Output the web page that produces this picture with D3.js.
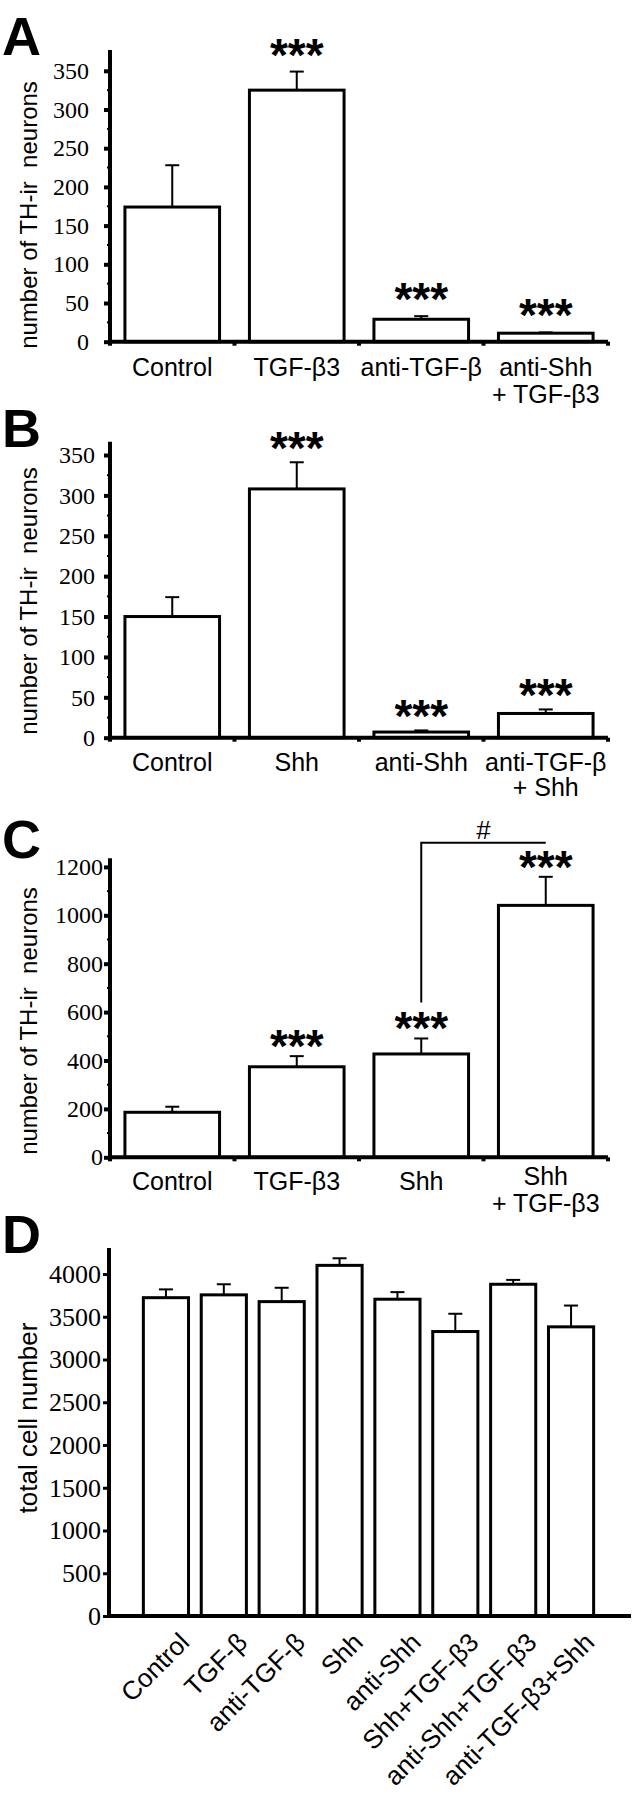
<!DOCTYPE html>
<html>
<head>
<meta charset="utf-8">
<script src="https://cdn.jsdelivr.net/npm/d3@7"></script>
<style>
  body { margin: 0; background: #fff; }
  svg { display: block; }
</style>
</head>
<body>
<svg id="fig" width="632" height="1800"></svg>
<script>
// ---- data ----
// Panel A: TH-ir neurons, TGF-beta3 / antibody treatments
const catsA = [["Control"], ["TGF-β3"], ["anti-TGF-β"], ["anti-Shh", "+ TGF-β3"]];
const meanA = [174, 325, 29, 11];
const semA = [54, 24, 4, 1];
const sigA = ["", "***", "***", "***"];
const ticksA = [0, 50, 100, 150, 200, 250, 300, 350];

// Panel B: TH-ir neurons, Shh / antibody treatments
const catsB = [["Control"], ["Shh"], ["anti-Shh"], ["anti-TGF-β", "+ Shh"]];
const meanB = [150, 308, 7, 30];
const semB = [24, 33, 2, 5];
const sigB = ["", "***", "***", "***"];
const ticksB = [0, 50, 100, 150, 200, 250, 300, 350];

// Panel C: TH-ir neurons, combined treatment
const catsC = [["Control"], ["TGF-β3"], ["Shh"], ["Shh", "+ TGF-β3"]];
const meanC = [186, 374, 427, 1041];
const semC = [23, 44, 64, 118];
const sigC = ["", "***", "***", "***"];
const ticksC = [0, 200, 400, 600, 800, 1000, 1200];
const bracketC = { from: 2, to: 3, top: 1300, bottom: 640, label: "#" };

// Panel D: total cell number
const catsD = ["Control", "TGF-β", "anti-TGF-β", "Shh", "anti-Shh", "Shh+TGF-β3", "anti-Shh+TGF-β3", "anti-TGF-β3+Shh"];
const meanD = [3723, 3756, 3677, 4101, 3705, 3327, 3880, 3382];
const semD = [97, 124, 162, 83, 83, 208, 51, 249];
const ticksD = [0, 500, 1000, 1500, 2000, 2500, 3000, 3500, 4000];

const svg = d3.select("#fig");
const SANS = "'Liberation Sans', Arial, sans-serif";
const SERIF = "'Liberation Serif', 'Times New Roman', serif";

// panel layout
const panels = [
  { letter: "A", cats: catsA, mean: meanA, sem: semA, sig: sigA, ticks: ticksA, minor: 25,
    ylabel: "number of TH-ir  neurons", x0: 110, x1: 608, y0: 341.7, yTop: 70.8, axisTop: 50,
    letterY: 55, tickPad: 15, labelMid: 215, starGap: 27, catY: [34, 61] },
  { letter: "B", cats: catsB, mean: meanB, sem: semB, sig: sigB, ticks: ticksB, minor: 25,
    ylabel: "number of TH-ir  neurons", x0: 110, x1: 608, y0: 737.7, yTop: 455, axisTop: 441.7,
    letterY: 447, tickPad: 9, labelMid: 601, starGap: 24, catY: [33, 58] },
  { letter: "C", cats: catsC, mean: meanC, sem: semC, sig: sigC, ticks: ticksC, minor: 100,
    ylabel: "number of TH-ir  neurons", x0: 110, x1: 608, y0: 1157.3, yTop: 866.9, axisTop: 858.3,
    letterY: 858, tickPad: 1, labelMid: 1021, starGap: 20, catY: [33, 60], bracket: bracketC }
];

function drawPanel(p) {
  const g = svg.append("g");
  const n = p.mean.length;
  const x = d3.scaleBand().domain(d3.range(n)).range([p.x0, p.x1])
    .paddingInner(0.24).paddingOuter(0.12);
  const y = d3.scaleLinear().domain([0, p.ticks[p.ticks.length - 1]]).range([p.y0, p.yTop]);

  // bars
  g.selectAll("rect.bar").data(p.mean).join("rect")
    .attr("class", "bar")
    .attr("x", (d, i) => x(i))
    .attr("y", d => y(d))
    .attr("width", x.bandwidth())
    .attr("height", d => y(0) - y(d))
    .attr("fill", "#fff").attr("stroke", "#000").attr("stroke-width", 3);

  // error bars (upper only)
  const eb = g.selectAll("g.err").data(p.mean).join("g").attr("class", "err");
  eb.append("line")
    .attr("x1", (d, i) => x(i) + x.bandwidth() / 2).attr("x2", (d, i) => x(i) + x.bandwidth() / 2)
    .attr("y1", d => y(d)).attr("y2", (d, i) => y(d + p.sem[i]))
    .attr("stroke", "#000").attr("stroke-width", 2);
  eb.append("line")
    .attr("x1", (d, i) => x(i) + x.bandwidth() / 2 - 7).attr("x2", (d, i) => x(i) + x.bandwidth() / 2 + 7)
    .attr("y1", (d, i) => y(d + p.sem[i])).attr("y2", (d, i) => y(d + p.sem[i]))
    .attr("stroke", "#000").attr("stroke-width", 2);

  // significance stars
  g.selectAll("text.sig").data(p.sig).join("text")
    .attr("class", "sig")
    .attr("x", (d, i) => x(i) + x.bandwidth() / 2)
    .attr("y", (d, i) => y(p.mean[i] + p.sem[i]) - p.starGap + 26)
    .attr("text-anchor", "middle")
    .attr("font-family", SANS).attr("font-weight", "bold").attr("font-size", 46)
    .text(d => d);

  // y axis
  const ax = g.append("g").attr("transform", `translate(${p.x0},0)`)
    .call(d3.axisLeft(y).tickValues(p.ticks).tickSize(6).tickPadding(p.tickPad).tickFormat(d3.format("d")));
  ax.select(".domain").remove();
  ax.selectAll(".tick line").attr("stroke", "#000").attr("stroke-width", 4);
  ax.selectAll(".tick text").attr("font-family", SERIF).attr("font-size", 24).attr("fill", "#000");
  const minorVals = d3.range(p.minor, p.ticks[p.ticks.length - 1], p.minor).filter(v => !p.ticks.includes(v));
  g.selectAll("line.minor").data(minorVals).join("line")
    .attr("class", "minor")
    .attr("x1", p.x0 - 3).attr("x2", p.x0)
    .attr("y1", d => y(d)).attr("y2", d => y(d))
    .attr("stroke", "#000").attr("stroke-width", 2);
  g.append("line").attr("x1", p.x0).attr("x2", p.x0).attr("y1", p.axisTop).attr("y2", p.y0 + 2)
    .attr("stroke", "#000").attr("stroke-width", 4);

  // x axis with ticks at category boundaries
  g.append("line").attr("x1", p.x0).attr("x2", p.x1).attr("y1", p.y0).attr("y2", p.y0)
    .attr("stroke", "#000").attr("stroke-width", 4);
  g.selectAll("line.bnd").data(d3.range(n + 1)).join("line")
    .attr("class", "bnd")
    .attr("x1", i => p.x0 + i * x.step()).attr("x2", i => p.x0 + i * x.step())
    .attr("y1", p.y0).attr("y2", p.y0 + 4)
    .attr("stroke", "#000").attr("stroke-width", 4);

  // category labels
  const cl = g.selectAll("text.cat").data(p.cats).join("text")
    .attr("class", "cat")
    .attr("text-anchor", "middle")
    .attr("font-family", SANS).attr("font-size", 25).attr("fill", "#000");
  cl.each(function(lines, i) {
    const t = d3.select(this);
    const cx = x(i) + x.bandwidth() / 2;
    const shift = (p.letter === "C" && lines.length > 1) ? -5 : 0;
    lines.forEach((s, k) => {
      t.append("tspan").attr("x", cx).attr("y", p.y0 + p.catY[k] + shift).text(s);
    });
  });

  // y axis title
  g.append("text")
    .attr("transform", `translate(37,${p.labelMid}) rotate(-90)`)
    .attr("text-anchor", "middle")
    .attr("font-family", SANS).attr("font-size", 24)
    .style("white-space", "pre")
    .text(p.ylabel);

  // panel letter
  g.append("text").attr("x", 2).attr("y", p.letterY)
    .attr("font-family", SANS).attr("font-weight", "bold").attr("font-size", 54)
    .text(p.letter);

  // comparison bracket
  if (p.bracket) {
    const b = p.bracket;
    const xa = x(b.from) + x.bandwidth() / 2;
    const xb = x(b.to) + x.bandwidth() / 2;
    g.append("path")
      .attr("d", `M${xa},${y(b.bottom)}V${y(b.top)}H${xb}`)
      .attr("fill", "none").attr("stroke", "#000").attr("stroke-width", 2);
    g.append("text").attr("x", (xa + xb) / 2).attr("y", y(b.top) - 4)
      .attr("text-anchor", "middle")
      .attr("font-family", SANS).attr("font-size", 26)
      .text(b.label);
  }
}

panels.forEach(drawPanel);

// ---- Panel D ----
(function() {
  const g = svg.append("g");
  const x0 = 109, x1 = 631, y0 = 1616, yTop = 1274, axisTop = 1248;
  const x = d3.scaleBand().domain(catsD).range([137, 600]).paddingInner(0.22).paddingOuter(0.11);
  const y = d3.scaleLinear().domain([0, 4000]).range([y0, yTop]);

  g.selectAll("rect").data(meanD).join("rect")
    .attr("x", (d, i) => x(catsD[i]))
    .attr("y", d => y(d))
    .attr("width", x.bandwidth())
    .attr("height", d => y(0) - y(d))
    .attr("fill", "#fff").attr("stroke", "#000").attr("stroke-width", 3);

  const eb = g.selectAll("g.err").data(meanD).join("g").attr("class", "err");
  eb.append("line")
    .attr("x1", (d, i) => x(catsD[i]) + x.bandwidth() / 2).attr("x2", (d, i) => x(catsD[i]) + x.bandwidth() / 2)
    .attr("y1", d => y(d)).attr("y2", (d, i) => y(d + semD[i]))
    .attr("stroke", "#000").attr("stroke-width", 2);
  eb.append("line")
    .attr("x1", (d, i) => x(catsD[i]) + x.bandwidth() / 2 - 7).attr("x2", (d, i) => x(catsD[i]) + x.bandwidth() / 2 + 7)
    .attr("y1", (d, i) => y(d + semD[i])).attr("y2", (d, i) => y(d + semD[i]))
    .attr("stroke", "#000").attr("stroke-width", 2);

  const ax = g.append("g").attr("transform", `translate(${x0},0)`)
    .call(d3.axisLeft(y).tickValues(ticksD).tickSize(6).tickPadding(2).tickFormat(d3.format("d")));
  ax.select(".domain").remove();
  ax.selectAll(".tick line").attr("stroke", "#000").attr("stroke-width", 3);
  ax.selectAll(".tick text").attr("font-family", SERIF).attr("font-size", 26).attr("fill", "#000");

  g.append("line").attr("x1", x0).attr("x2", x0).attr("y1", axisTop).attr("y2", y0 + 2)
    .attr("stroke", "#000").attr("stroke-width", 4);
  g.append("line").attr("x1", x0).attr("x2", x1).attr("y1", y0).attr("y2", y0)
    .attr("stroke", "#000").attr("stroke-width", 4);

  g.selectAll("text.cat").data(catsD).join("text")
    .attr("class", "cat")
    .attr("transform", d => `translate(${x(d) + x.bandwidth() / 2 + 25},${y0 + 28}) rotate(-45)`)
    .attr("text-anchor", "end")
    .attr("font-family", SANS).attr("font-size", 26)
    .text(d => d);

  g.append("text")
    .attr("transform", `translate(37,1418) rotate(-90)`)
    .attr("text-anchor", "middle")
    .attr("font-family", SANS).attr("font-size", 26)
    .text("total cell number");

  g.append("text").attr("x", 2).attr("y", 1253)
    .attr("font-family", SANS).attr("font-weight", "bold").attr("font-size", 54)
    .text("D");
})();
</script>
</body>
</html>
